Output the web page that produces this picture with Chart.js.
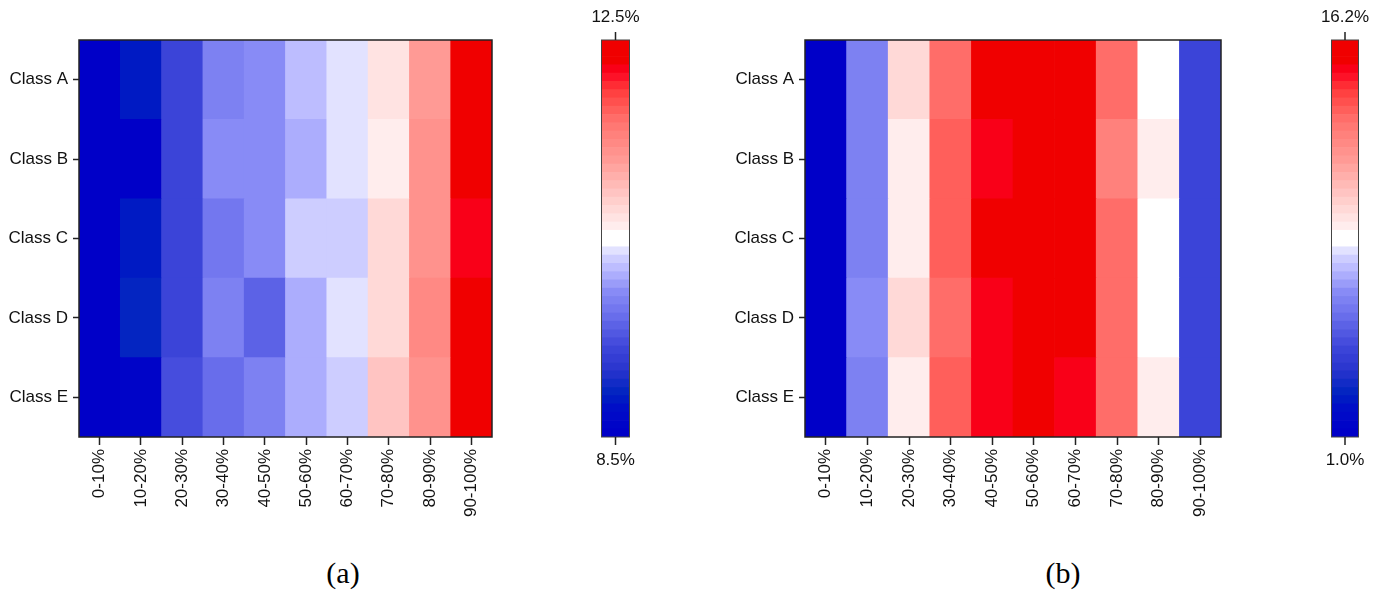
<!DOCTYPE html>
<html>
<head>
<meta charset="utf-8">
<script src="https://cdn.jsdelivr.net/npm/chart.js@4.4.0/dist/chart.umd.min.js"></script>
<style>
  body { margin: 0; background: #fff; width: 1381px; height: 592px; position: relative; overflow: hidden; }
  canvas { position: absolute; top: 0; }
  .cap { position: absolute; top: 558px; font-family: "Liberation Serif", "Times New Roman", serif;
         font-size: 30px; line-height: 30px; color: #000; transform: translateX(-50%); }
</style>
</head>
<body>
<canvas id="heatA" width="510" height="540" style="left:0"></canvas>
<canvas id="barA" width="110" height="500" style="left:560px"></canvas>
<canvas id="heatB" width="510" height="540" style="left:720px"></canvas>
<canvas id="barB" width="91" height="500" style="left:1290px"></canvas>
<div class="cap" style="left:343px">(a)</div>
<div class="cap" style="left:1063px">(b)</div>
<script>
const classes = ['Class A', 'Class B', 'Class C', 'Class D', 'Class E'];
const deciles = ['0-10%', '10-20%', '20-30%', '30-40%', '40-50%', '50-60%', '60-70%', '70-80%', '80-90%', '90-100%'];

// panel (a): share per decile, colour range 8.5% .. 12.5%
const rangeA = [8.5, 12.5];
const classA_a = [8.52, 8.88, 9.38, 9.86, 9.96, 10.21, 10.38, 10.70, 11.29, 12.50];
const classB_a = [8.54, 8.56, 9.38, 9.95, 9.96, 10.13, 10.40, 10.62, 11.38, 12.45];
const classC_a = [8.58, 8.85, 9.34, 9.79, 9.95, 10.30, 10.30, 10.78, 11.37, 12.20];
const classD_a = [8.58, 8.94, 9.34, 9.86, 9.63, 10.15, 10.36, 10.78, 11.46, 12.40];
const classE_a = [8.54, 8.66, 9.42, 9.70, 9.87, 10.15, 10.30, 10.95, 11.37, 12.50];

// panel (b): colour range 1.0% .. 16.2%
const rangeB = [1.0, 16.2];
const classA_b = [1.0, 6.2, 9.7, 13.2, 15.8, 16.2, 16.0, 13.2, 8.7, 4.3];
const classB_b = [1.1, 6.2, 9.1, 13.5, 15.1, 16.1, 15.9, 12.6, 9.1, 4.3];
const classC_b = [1.1, 6.2, 9.1, 13.5, 15.7, 16.0, 15.8, 13.2, 8.7, 4.3];
const classD_b = [1.1, 6.5, 9.7, 13.2, 15.1, 16.2, 15.9, 13.2, 8.7, 4.3];
const classE_b = [1.2, 6.2, 9.1, 13.5, 15.1, 15.9, 15.1, 13.2, 9.1, 4.3];

// blue - white - red ramp, sampled into discrete steps
const rampStops = [
  [0.000, [0, 0, 200]], [0.060, [0, 12, 200]], [0.100, [0, 35, 192]], [0.160, [40, 52, 205]],
  [0.220, [62, 70, 218]], [0.300, [105, 110, 235]], [0.360, [135, 138, 246]], [0.420, [185, 185, 255]],
  [0.460, [215, 215, 255]], [0.470, [228, 228, 255]], [0.489, [255, 255, 255]], [0.511, [255, 255, 255]],
  [0.530, [255, 238, 238]], [0.620, [255, 195, 192]], [0.700, [255, 155, 150]], [0.800, [255, 115, 110]],
  [0.880, [255, 60, 60]], [0.930, [252, 0, 32]], [0.955, [240, 0, 0]], [1.000, [240, 0, 0]]
];
const nSteps = 48;

function ramp(t) {
  for (let i = 1; i < rampStops.length; i++) {
    const [t1, c1] = rampStops[i];
    const [t0, c0] = rampStops[i - 1];
    if (t <= t1) {
      const f = (t - t0) / (t1 - t0);
      const c = c0.map((v, k) => Math.round(v + (c1[k] - v) * f));
      return `rgb(${c[0]},${c[1]},${c[2]})`;
    }
  }
  return 'rgb(240,0,0)';
}
const steps = Array.from({ length: nSteps }, (_, i) => ramp(i / (nSteps - 1)));

function colorFor(v, range) {
  const t = (v - range[0]) / (range[1] - range[0]);
  return steps[Math.max(0, Math.min(nSteps - 1, Math.floor(t * nSteps)))];
}

const font = { family: '"Liberation Sans", Arial, sans-serif', size: 17 };
const ink = '#111';

// frame around the plotting area
const framePlugin = {
  id: 'frame',
  afterDraw(chart, args, opts) {
    const { ctx, chartArea: a } = chart;
    ctx.save();
    ctx.strokeStyle = opts.color || '#222';
    ctx.lineWidth = opts.width || 1.5;
    ctx.strokeRect(a.left, a.top, a.right - a.left, a.bottom - a.top);
    ctx.restore();
  }
};

function heatmap(id, rows, range, yWidth, padRight) {
  // bottom row first so Class A ends on top of the stack
  const datasets = rows.map((vals, r) => ({
    label: classes[r],
    data: deciles.map(() => 1),
    backgroundColor: vals.map(v => colorFor(v, range)),
    borderWidth: 0,
    barPercentage: 1,
    categoryPercentage: 1
  })).reverse();

  new Chart(document.getElementById(id), {
    type: 'bar',
    data: { labels: deciles, datasets },
    options: {
      responsive: false,
      animation: false,
      layout: { padding: { top: 40, right: padRight, left: 0, bottom: 0 } },
      plugins: { legend: { display: false }, tooltip: { enabled: false }, frame: { width: 1.5 } },
      scales: {
        x: {
          stacked: true,
          grid: { offset: false, drawOnChartArea: false, tickLength: 8, tickWidth: 1.5, tickColor: '#222' },
          border: { display: false },
          ticks: { minRotation: 90, maxRotation: 90, padding: 4, font, color: ink },
          afterFit: s => { s.height = 103; }
        },
        y: {
          stacked: true,
          min: 0,
          max: classes.length,
          afterBuildTicks: axis => { axis.ticks = classes.map((_, i) => ({ value: i + 0.5 })); },
          grid: { drawOnChartArea: false, tickLength: 6, tickWidth: 1.5, tickColor: '#222' },
          border: { display: false },
          ticks: { padding: 5, font, color: ink, callback: v => classes[classes.length - 1 - Math.floor(v)] },
          afterFit: s => { s.width = yWidth; }
        }
      }
    },
    plugins: [framePlugin]
  });
}

// vertical colour key with the range ends written above and below
const keyLabels = {
  id: 'keyLabels',
  afterDraw(chart) {
    const { ctx, chartArea: a, scales: { y } } = chart;
    const cx = (a.left + a.right) / 2;
    const top = y.getPixelForValue(y.max);
    const bottom = y.getPixelForValue(y.min);
    ctx.save();
    ctx.strokeStyle = '#444';
    ctx.lineWidth = 1;
    ctx.strokeRect(a.left + 0.5, a.top, a.right - a.left - 1, a.bottom - a.top);
    ctx.strokeStyle = '#222';
    ctx.lineWidth = 1.5;
    ctx.beginPath();
    ctx.moveTo(cx, top); ctx.lineTo(cx, top - 8);
    ctx.moveTo(cx, bottom); ctx.lineTo(cx, bottom + 8);
    ctx.stroke();
    ctx.fillStyle = ink;
    ctx.font = `${font.size}px ${font.family}`;
    ctx.textAlign = 'center';
    ctx.textBaseline = 'middle';
    ctx.fillText(y.max.toFixed(1) + '%', cx, top - 23);
    ctx.fillText(y.min.toFixed(1) + '%', cx, bottom + 23);
    ctx.restore();
  }
};

function colorKey(id, range, padLeft, padRight) {
  const span = (range[1] - range[0]) / nSteps;
  const datasets = steps.map((c, i) => ({
    data: [[range[0] + i * span, range[0] + (i + 1) * span]],
    backgroundColor: c,
    borderWidth: 0,
    grouped: false,
    barPercentage: 1,
    categoryPercentage: 1
  }));
  new Chart(document.getElementById(id), {
    type: 'bar',
    data: { labels: ['key'], datasets },
    options: {
      responsive: false,
      animation: false,
      layout: { padding: { top: 40, bottom: 63, left: padLeft, right: padRight } },
      plugins: { legend: { display: false }, tooltip: { enabled: false } },
      scales: {
        x: { display: false },
        y: { display: false, min: range[0], max: range[1] }
      }
    },
    plugins: [keyLabels]
  });
}

heatmap('heatA', [classA_a, classB_a, classC_a, classD_a, classE_a], rangeA, 79, 18);
heatmap('heatB', [classA_b, classB_b, classC_b, classD_b, classE_b], rangeB, 85, 9);
colorKey('barA', rangeA, 41, 40);
colorKey('barB', rangeB, 41, 22);
</script>
</body>
</html>
